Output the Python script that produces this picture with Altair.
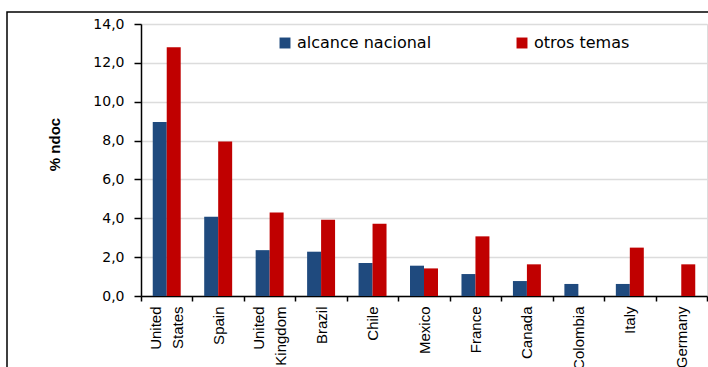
import altair as alt
import pandas as pd

countries = ["United States", "Spain", "United Kingdom", "Brazil", "Chile", "Mexico",
             "France", "Canada", "Colombia", "Italy", "Germany"]
alcance = [8.96, 4.08, 2.36, 2.28, 1.70, 1.56, 1.13, 0.77, 0.62, 0.62, 0.0]
otros = [12.8, 7.95, 4.3, 3.93, 3.72, 1.42, 3.07, 1.63, 0.0, 2.49, 1.63]
series = ["alcance nacional", "otros temas"]
colors = ["#1F4A7E", "#C00000"]

rows = []
for c, a, o in zip(countries, alcance, otros):
    rows.append({"country": c, "serie": series[0], "value": a})
    rows.append({"country": c, "serie": series[1], "value": o})
df = pd.DataFrame(rows)

bars = alt.Chart(df).mark_bar().encode(
    x=alt.X("country:N", sort=countries,
            scale=alt.Scale(paddingInner=0, paddingOuter=0),
            axis=alt.Axis(title=None, labelAngle=-90, labelFont="Liberation Sans",
                          labelFontSize=15, labelColor="black", labelPadding=5,
                          labelExpr="split(datum.label, ' ')", labelLineHeight=22,
                          labelOffset={"condition": {"test": "indexof(datum.label, ' ') >= 0",
                                                     "value": -11}, "value": 0},
                          tickBand="extent", tickSize=5, tickColor="black", tickWidth=1.5,
                          domainColor="black", domainWidth=1.5, grid=False)),
    xOffset=alt.XOffset("serie:N", sort=series,
                        scale=alt.Scale(paddingOuter=0.84, paddingInner=0)),
    y=alt.Y("value:Q", scale=alt.Scale(domain=[0, 14], nice=False),
            axis=alt.Axis(title="% ndoc", values=[0, 2, 4, 6, 8, 10, 12, 14],
                          labelExpr="replace(format(datum.value, '.1f'), '.', ',')",
                          labelFont="DejaVu Sans", labelFontSize=14, labelColor="black",
                          labelPadding=10, tickSize=7, tickColor="black", tickWidth=1.5,
                          domainColor="black", domainWidth=1.5,
                          gridColor="#dcdcdc", gridWidth=1.5,
                          titleFont="Liberation Sans", titleFontSize=15, titleFontWeight="bold",
                          titleColor="black", titleAngle=-90, titleX=-87, titleY=120,
                          titleAlign="center", titleBaseline="middle")),
    color=alt.Color("serie:N", sort=series,
                    scale=alt.Scale(domain=series, range=colors),
                    legend=alt.Legend(title=None, orient="none", legendX=136, legendY=11,
                                      direction="horizontal", columns=2, columnPadding=82,
                                      symbolType="square", symbolSize=120, symbolStrokeWidth=0,
                                      labelFont="DejaVu Sans", labelFontSize=16,
                                      labelColor="black", labelOffset=4, padding=0)),
)

frame = alt.Chart(pd.DataFrame({"k": [0]})).mark_rect(
    fill=None, stroke="black", strokeWidth=1.5
).encode(
    x=alt.value(-134), x2=alt.value(700), y=alt.value(-12), y2=alt.value(500)
)

chart = alt.layer(bars, frame).properties(
    width=566, height=272,
    autosize=alt.AutoSizeParams(type="none"),
    padding={"left": 141, "top": 24, "right": 1, "bottom": 71},
).configure_view(stroke=None).configure(background="white")

chart.save("out.html", embed_options={"renderer": "svg", "actions": False})
